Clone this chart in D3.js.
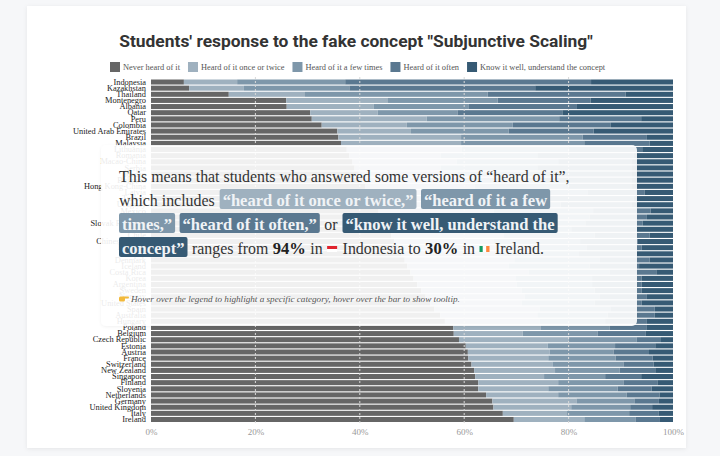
<!DOCTYPE html>
<html>
<head>
<meta charset="utf-8">
<script src="https://cdn.jsdelivr.net/npm/d3@7"></script>
<style>
  html, body { margin: 0; padding: 0; background: #f6f7f9; }
  svg { display: block; }
</style>
</head>
<body>
<div id="chart"></div>
<script>
// countries sorted by share that never heard of the concept
const countries = [
  "Indonesia", "Kazakhstan", "Thailand", "Montenegro", "Albania", "Qatar", "Peru",
  "Colombia", "United Arab Emirates", "Brazil", "Malaysia", "Lithuania", "Romania",
  "Macao-China", "Serbia", "Jordan", "Bulgaria", "Hong Kong-China", "Latvia",
  "Turkey", "Uruguay", "Mexico", "Croatia", "Slovak Republic", "Greece", "Chile",
  "Chinese Taipei", "Portugal", "Japan", "Denmark", "Iceland", "Costa Rica", "Korea",
  "Argentina", "Sweden", "Norway", "United States", "Spain", "Australia", "Hungary",
  "Poland", "Belgium", "Czech Republic", "Estonia", "Austria", "France", "Switzerland",
  "New Zealand", "Singapore", "Finland", "Slovenia", "Netherlands", "Germany",
  "United Kingdom", "Italy", "Ireland"
];

const neverHeard = [
  6.3, 7.3, 14.9, 25.9, 26.0, 30.5, 30.8, 32.7, 35.7, 35.9, 36.4, 37.5, 38.0,
  38.6, 39.0, 39.8, 40.5, 41.0, 41.6, 42.2, 43.0, 43.6, 44.2, 44.8, 45.5, 46.0,
  46.6, 47.3, 48.0, 48.6, 49.1, 49.7, 50.3, 51.0, 51.8, 52.6, 53.5, 54.3, 55.4, 56.3,
  57.9, 58.0, 59.0, 60.3, 60.7, 60.8, 61.4, 61.9, 62.1, 62.7, 62.7, 64.2, 65.4,
  65.6, 67.4, 69.5
];
const onceOrTwice = [
  10.2, 10.5, 14.6, 19.5, 16.7, 12.9, 22.0, 16.3, 14.1, 23.5, 23.0, 22.0, 17.5,
  20.0, 16.5, 19.0, 16.0, 21.0, 22.5, 16.8, 18.0, 22.0, 20.8, 20.2, 18.0, 21.5,
  19.0, 20.0, 18.5, 21.0, 19.4, 22.6, 19.5, 19.0, 19.2, 19.0, 17.5, 20.2, 18.6, 18.2,
  16.8, 13.2, 21.0, 15.7, 15.7, 15.3, 15.5, 15.5, 13.2, 15.3, 13.4, 13.8, 16.1,
  14.9, 12.3, 13.5
];
const fewTimes = [
  20.7, 20.2, 35.0, 21.0, 18.2, 15.3, 25.4, 20.3, 18.7, 23.3, 23.6, 20.5, 18.5,
  19.4, 18.5, 18.2, 18.0, 18.0, 19.5, 17.5, 17.5, 19.1, 19.0, 18.2, 17.0, 17.5,
  16.6, 16.2, 15.5, 16.4, 15.5, 15.5, 14.7, 14.5, 14.0, 14.4, 14.0, 13.5, 13.5, 12.5,
  13.2, 14.4, 13.0, 12.9, 12.2, 12.9, 13.6, 12.4, 11.7, 12.5, 13.3, 13.1, 11.1,
  11.3, 11.9, 9.8
];
const heardOften = [
  47.1, 35.6, 26.4, 17.8, 20.7, 20.1, 15.7, 18.7, 16.3, 12.3, 12.5, 14.1, 18.5,
  14.0, 18.0, 15.0, 17.5, 12.0, 11.0, 16.0, 13.5, 11.0, 11.0, 11.0, 12.5, 10.5,
  11.0, 10.5, 11.0, 9.5, 9.5, 9.0, 9.5, 9.5, 9.0, 9.0, 9.0, 8.5, 9.0, 8.0,
  7.1, 9.2, 4.7, 7.7, 6.8, 7.1, 5.8, 6.8, 6.9, 6.5, 6.5, 6.3, 4.7,
  4.2, 5.6, 4.7
];
const knowWell = [
  15.7, 26.4, 9.1, 15.8, 18.4, 21.2, 6.1, 12.0, 15.2, 5.0, 4.5, 5.9, 7.5,
  8.0, 8.0, 8.0, 8.0, 8.0, 5.4, 7.5, 8.0, 4.3, 5.0, 5.8, 7.0, 4.5,
  6.8, 6.0, 7.0, 4.5, 6.5, 3.2, 6.0, 6.0, 6.0, 5.0, 6.0, 3.5, 3.5, 5.0,
  5.0, 5.2, 2.3, 3.4, 4.6, 3.9, 3.7, 3.4, 6.1, 3.0, 4.1, 2.6, 2.7,
  4.0, 2.8, 2.5
];

const categories = [
  "Never heard of it", "Heard of it once or twice", "Heard of it a few times",
  "Heard of it often", "Know it well, understand the concept"
];
const colors = ["#666666", "#9fb1bf", "#7e97aa", "#5a7890", "#365a74"];
const xTicks = [0, 0.2, 0.4, 0.6, 0.8, 1];

// annotation text, one array per line; c = category colour box, b = bold
const noteLines = [
  [{t: "This means that students who answered some versions of “heard of it”,"}],
  [{t: "which includes"}, {t: "“heard of it once or twice,”", c: 1}, {t: "“heard of it a few", c: 2}],
  [{t: "times,”", c: 2}, {t: "“heard of it often,”", c: 3}, {t: "or"}, {t: "“know it well, understand the", c: 4}],
  [{t: "concept”", c: 4}, {t: "ranges from"}, {t: "94%", b: true}, {t: "in"}, {flag: ["#e0232e", "#ffffff"]},
   {t: "Indonesia to"}, {t: "30%", b: true}, {t: "in"}, {flag: ["#169b62", "#ffffff", "#ff883e"], v: true}, {t: "Ireland."}]
];
const hint = "Hover over the legend to highlight a specific category, hover over the bar to show tooltip.";

const serif = "'Liberation Serif', 'Times New Roman', serif";
const W = 720, H = 456;

const svg = d3.select("#chart").append("svg")
  .attr("width", W)
  .attr("height", H);

let defs = svg.append("defs");
defs.append("filter").attr("id", "card").attr("x", -0.1).attr("y", -0.1).attr("width", 1.2).attr("height", 1.2)
  .append("feDropShadow").attr("dx", 0).attr("dy", 1).attr("stdDeviation", 2)
  .attr("flood-color", "#000").attr("flood-opacity", 0.07);
defs.append("filter").attr("id", "soft").attr("x", -0.1).attr("y", -0.1).attr("width", 1.2).attr("height", 1.2)
  .append("feDropShadow").attr("dx", 0).attr("dy", 1).attr("stdDeviation", 1.5)
  .attr("flood-color", "#000").attr("flood-opacity", 0.06);

svg.append("rect").attr("width", W).attr("height", H).attr("fill", "#f6f7f9");
svg.append("rect")
  .attr("x", 27).attr("y", 6).attr("width", 659).attr("height", 442)
  .attr("fill", "#fff")
  .attr("filter", "url(#card)");

// title, fitted to its width in the reference
let title = svg.append("text")
  .attr("x", 356).attr("y", 47)
  .attr("text-anchor", "middle")
  .attr("font-family", "Roboto, 'Liberation Sans', sans-serif")
  .attr("font-weight", 700)
  .attr("font-size", 17)
  .attr("fill", "#333")
  .text("Students' response to the fake concept \"Subjunctive Scaling\"");
let tw = title.node().getComputedTextLength();
title.attr("font-size", 17 * 474 / tw);

// legend
let lx = 110;
categories.forEach(function(c, i) {
  let g = svg.append("g").attr("transform", "translate(" + lx + ",62)");
  g.append("rect").attr("width", 10).attr("height", 10).attr("fill", colors[i]);
  let t = g.append("text")
    .attr("x", 13).attr("y", 8.3)
    .attr("font-family", serif)
    .attr("font-size", 8.4)
    .attr("fill", "#555")
    .text(c);
  lx += 13 + t.node().getComputedTextLength() + 8;
});

// scales
const x = d3.scaleLinear().domain([0, 1]).range([151, 673]);
const y = d3.scaleBand().domain(countries).range([79.5, 422]).paddingInner(0.18);

const keys = ["never", "once", "few", "often", "know"];
const rows = countries.map(function(c, i) {
  return {country: c, never: neverHeard[i], once: onceOrTwice[i], few: fewTimes[i], often: heardOften[i], know: knowWell[i]};
});
const series = d3.stack().keys(keys).offset(d3.stackOffsetExpand)(rows);

svg.append("g").selectAll("g")
  .data(series)
  .join("g")
  .attr("fill", function(d, i) { return colors[i]; })
  .selectAll("rect")
  .data(function(d) { return d; })
  .join("rect")
  .attr("x", function(d) { return x(d[0]); })
  .attr("width", function(d) { return x(d[1]) - x(d[0]); })
  .attr("y", function(d) { return y(d.data.country); })
  .attr("height", y.bandwidth());

// dashed grid on top of the bars
svg.append("g").selectAll("line")
  .data(xTicks.slice(1, -1))
  .join("line")
  .attr("x1", function(d) { return x(d); })
  .attr("x2", function(d) { return x(d); })
  .attr("y1", 77).attr("y2", 423)
  .attr("stroke", "#d8d8d8")
  .attr("stroke-dasharray", "2,2");

// country labels
let yAxis = svg.append("g")
  .attr("transform", "translate(151,0)")
  .call(d3.axisLeft(y).tickSize(0).tickPadding(5));
yAxis.select(".domain").remove();
yAxis.selectAll("text")
  .attr("font-family", serif)
  .attr("font-size", 8.4)
  .attr("fill", "#222");

// percentage axis
let xAxis = svg.append("g")
  .attr("transform", "translate(0,425)")
  .call(d3.axisBottom(x).tickValues(xTicks).tickFormat(d3.format(".0%")).tickSize(0).tickPadding(4));
xAxis.select(".domain").remove();
xAxis.selectAll("text")
  .attr("font-family", serif)
  .attr("font-size", 9)
  .attr("fill", "#999");

// annotation panel over the middle of the chart
let note = svg.append("g");
note.append("rect")
  .attr("x", 101).attr("y", 145).attr("width", 536).attr("height", 181)
  .attr("rx", 5)
  .attr("fill", "#fff").attr("fill-opacity", 0.9)
  .attr("filter", "url(#soft)");

function measure(str, bold, size, italic) {
  let t = note.append("text")
    .attr("font-family", serif)
    .attr("font-size", size)
    .attr("font-weight", bold ? 700 : 400)
    .attr("font-style", italic ? "italic" : "normal")
    .text(str);
  let w = t.node().getComputedTextLength();
  t.remove();
  return w;
}

let fs = 16 * 451 / measure(noteLines[0][0].t, false, 16);
let fb = 16 * 191 / measure(noteLines[1][1].t, true, 16);
let space = measure("a b", false, fs) - measure("ab", false, fs);

noteLines.forEach(function(line, li) {
  let base = 181.5 + li * 24;
  let cx = 119;
  line.forEach(function(s) {
    if (s.flag) {
      let n = s.flag.length;
      s.flag.forEach(function(col, k) {
        note.append("rect")
          .attr("x", s.v ? cx + k * 10 / n : cx)
          .attr("y", s.v ? base - 7.5 : base - 7.5 + k * 6 / n)
          .attr("width", s.v ? 10 / n : 10)
          .attr("height", s.v ? 6 : 6 / n)
          .attr("fill", col);
      });
      cx += 10 + space + 1.5;
      return;
    }
    if (s.c) {
      let w = measure(s.t, true, fb);
      note.append("rect")
        .attr("x", cx).attr("y", base - 16.5)
        .attr("width", w + 6).attr("height", 20)
        .attr("rx", 2)
        .attr("fill", colors[s.c]);
      note.append("text")
        .attr("x", cx + 3).attr("y", base)
        .attr("font-family", serif).attr("font-size", fb).attr("font-weight", 700)
        .attr("fill", "#f0f3f6")
        .text(s.t);
      cx += w + 6 + 4.5;
      return;
    }
    let size = s.b ? fb : fs;
    let w = measure(s.t, s.b, size);
    note.append("text")
      .attr("x", cx).attr("y", base)
      .attr("font-family", serif).attr("font-size", size)
      .attr("font-weight", s.b ? 700 : 400)
      .attr("fill", s.b ? "#222" : "#333")
      .text(s.t);
    cx += w + space + (s.t === "which includes" || s.t === "or" ? 1 : 0.5);
  });
});

// pointing hand icon and hint
let hand = note.append("g").attr("transform", "translate(119,295)").attr("fill", "#f2b93b");
hand.append("rect").attr("x", 0).attr("y", 1.5).attr("width", 6).attr("height", 5).attr("rx", 1.5);
hand.append("rect").attr("x", 4).attr("y", 1.5).attr("width", 6).attr("height", 2).attr("rx", 1);

let hs = 10 * 329 / measure(hint, false, 10, true);
note.append("text")
  .attr("x", 131).attr("y", 301.5)
  .attr("font-family", serif)
  .attr("font-size", hs)
  .attr("font-style", "italic")
  .attr("fill", "#555")
  .text(hint);
</script>
</body>
</html>
